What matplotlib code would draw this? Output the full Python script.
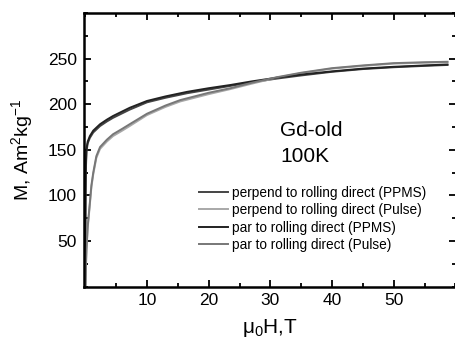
import matplotlib
matplotlib.use("Agg")
import matplotlib.pyplot as plt
from matplotlib.ticker import MultipleLocator

plt.rcParams['font.family'] = ['Liberation Sans', 'DejaVu Sans']

# Data
H_perp_ppms = [0, 0.02, 0.05, 0.1, 0.2, 0.4, 0.75, 1.3, 2.4, 3.5, 4.5, 7.2, 10, 13, 16.5, 20, 23.5, 27, 31, 35, 40, 45, 50, 55, 58.7]
M_perp_ppms = [0, 55, 95, 127, 148, 157, 163, 169, 176, 181, 185, 194, 202, 207, 212, 216, 220, 224, 228, 231.5, 235.5, 238.5, 240.5, 242, 243]

H_par_ppms = [0, 0.02, 0.05, 0.1, 0.2, 0.4, 0.75, 1.3, 2.4, 3.5, 4.5, 7.2, 10, 13, 16.5, 20, 23.5, 27, 31, 35, 40, 45, 50, 55, 58.7]
M_par_ppms = [0, 62, 103, 133, 151, 159, 165, 171, 178, 183, 187, 196, 203.5, 208.5, 213.5, 217.5, 221, 225, 229, 232.5, 236, 239, 241, 242.5, 243.5]

H_perp_pulse = [0, 0.1, 0.2, 0.4, 0.75, 1, 1.3, 1.8, 2.4, 3.5, 4.5, 6, 7.2, 10, 13, 15.4, 20, 23.5, 27, 31, 35, 40, 45, 50, 55, 58.7]
M_perp_pulse = [0, 19, 39, 64, 90, 109, 123, 141, 151, 159, 165, 171, 176, 188, 197, 203, 211, 216.5, 222.5, 229, 234, 239, 242, 244.5, 245.5, 246]

H_par_pulse = [0, 0.1, 0.2, 0.4, 0.75, 1, 1.3, 1.8, 2.4, 3.5, 4.5, 6, 7.2, 10, 13, 15.4, 20, 23.5, 27, 31, 35, 40, 45, 50, 55, 58.7]
M_par_pulse = [0, 21, 41, 66, 92, 111, 125, 143, 153, 161, 167, 173, 178, 189.5, 198.5, 204.5, 212.5, 217.5, 223.5, 229.5, 234.5, 239.5, 242.5, 245, 246, 246.5]

labels = ["perpend to rolling direct (PPMS)",
          "perpend to rolling direct (Pulse)",
          "par to rolling direct (PPMS)",
          "par to rolling direct (Pulse)"]
colors = ["#444444", "#a8a8a8", "#222222", "#777777"]

x_ticks = [10, 20, 30, 40, 50]
y_ticks = [50, 100, 150, 200, 250]

fig = plt.figure(figsize=(4.55, 3.45), dpi=100)
ax = fig.add_axes([84/455, 1-286.5/345, (455.5-84)/455, (286.5-13)/345])

series = [(H_perp_ppms, M_perp_ppms), (H_perp_pulse, M_perp_pulse),
          (H_par_ppms, M_par_ppms), (H_par_pulse, M_par_pulse)]
for (h, m), c, lab in zip(series, colors, labels):
    ax.plot(h, m, color=c, lw=1.4, label=lab)

ax.set_xlim(-0.2, 60)
ax.set_ylim(0, 300)
ax.set_xticks(x_ticks)
ax.set_yticks(y_ticks)
ax.xaxis.set_minor_locator(MultipleLocator(5))
ax.yaxis.set_minor_locator(MultipleLocator(25))
ax.tick_params(which='both', direction='in', top=True, right=True, labelsize=12.5, width=1.3)
ax.tick_params(which='major', length=5, pad=5)
ax.tick_params(which='minor', length=3)
for s in ax.spines.values():
    s.set_linewidth(1.8)

ax.set_xlabel(r"$\mathregular{\mu_0}$H,T", fontsize=15, labelpad=6)
ax.set_ylabel(r"M, Am$\mathregular{^2}$kg$\mathregular{^{-1}}$", fontsize=14, labelpad=9)

ax.text((280-84)/371.5, 0.522, "Gd-old\n100K", transform=ax.transAxes, fontsize=15,
        ha='left', va='center', linespacing=1.5, multialignment='left')

ax.legend(loc='upper left', bbox_to_anchor=(0.31, 0.368), frameon=False,
          fontsize=9.8, handlelength=2.1, handletextpad=0.3, labelspacing=0.25,
          borderaxespad=0, borderpad=0)

fig.savefig("out.png", dpi=100)
